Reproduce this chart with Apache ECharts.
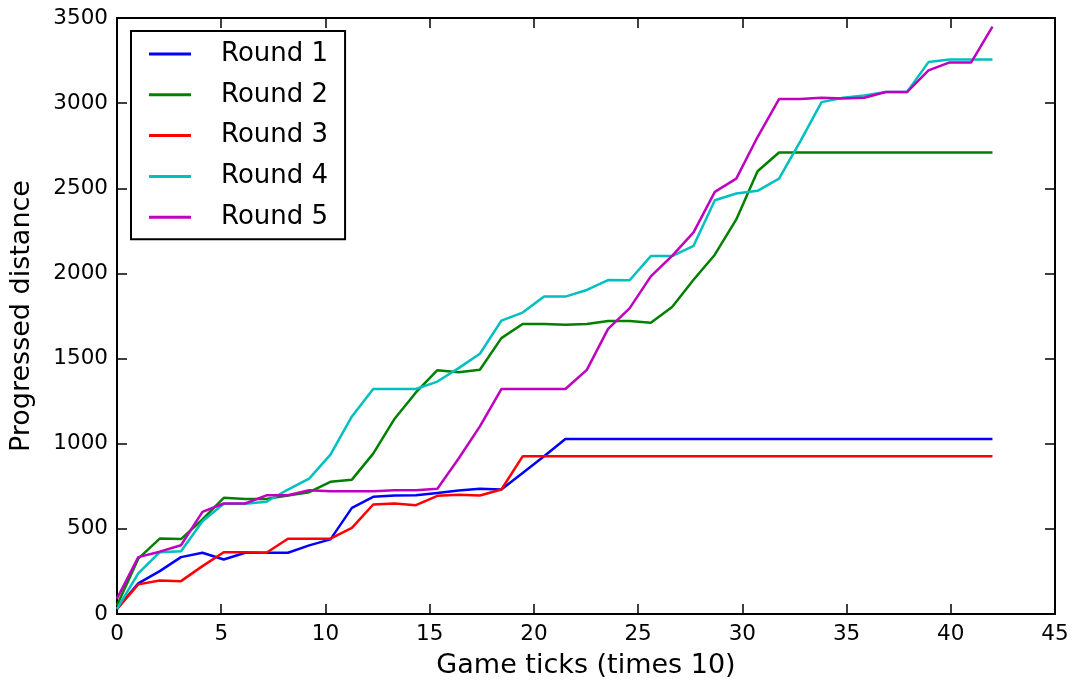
<!DOCTYPE html>
<html>
<head>
<meta charset="utf-8">
<script src="https://cdn.jsdelivr.net/npm/echarts@6/dist/echarts.min.js"></script>
<style>
html,body{margin:0;padding:0;background:#fff;}
#chart{width:1072px;height:684px;}
</style>
</head>
<body>
<div id="chart"></div>
<script>
// Game ticks (times 10)
var ticksX = [0, 1.02, 2.05, 3.07, 4.10, 5.12, 6.15, 7.17, 8.20, 9.22, 10.24, 11.27, 12.29, 13.32, 14.34, 15.37, 16.39, 17.41, 18.44, 19.46, 20.49, 21.51, 22.54, 23.56, 24.59, 25.61, 26.63, 27.66, 28.68, 29.71, 30.73, 31.76, 32.78, 33.80, 34.83, 35.85, 36.88, 37.90, 38.93, 39.95, 40.98, 42.00];

var round1 = [30, 180, 252, 334, 360, 320, 360, 360, 360, 403, 438, 623, 688, 696, 697, 711, 725, 735, 731, 828, 926, 1028, 1028, 1028, 1028, 1028, 1028, 1028, 1028, 1028, 1028, 1028, 1028, 1028, 1028, 1028, 1028, 1028, 1028, 1028, 1028, 1028];
var round2 = [50, 325, 443, 440, 555, 682, 676, 676, 696, 715, 776, 789, 942, 1147, 1301, 1432, 1420, 1434, 1620, 1703, 1703, 1698, 1703, 1721, 1721, 1711, 1803, 1963, 2110, 2317, 2600, 2710, 2710, 2710, 2710, 2710, 2710, 2710, 2710, 2710, 2710, 2710];
var round3 = [30, 174, 197, 193, 281, 363, 363, 360, 442, 442, 442, 506, 643, 649, 639, 694, 701, 696, 731, 926, 926, 926, 926, 926, 926, 926, 926, 926, 926, 926, 926, 926, 926, 926, 926, 926, 926, 926, 926, 926, 926, 926];
var round4 = [30, 238, 363, 369, 545, 647, 647, 659, 731, 795, 936, 1160, 1321, 1321, 1321, 1365, 1444, 1528, 1723, 1770, 1864, 1864, 1903, 1961, 1960, 2102, 2102, 2162, 2430, 2469, 2485, 2557, 2775, 3006, 3032, 3045, 3065, 3065, 3241, 3256, 3256, 3256];
var round5 = [90, 334, 366, 404, 600, 649, 649, 697, 697, 727, 721, 721, 721, 727, 727, 735, 913, 1102, 1321, 1321, 1321, 1321, 1434, 1674, 1795, 1983, 2103, 2241, 2479, 2557, 2801, 3024, 3024, 3032, 3027, 3032, 3065, 3065, 3192, 3239, 3239, 3450];

var seriesNames = ['Round 1', 'Round 2', 'Round 3', 'Round 4', 'Round 5'];
var seriesValues = [round1, round2, round3, round4, round5];
var colors = ['#0000ff', '#008000', '#ff0000', '#00bfbf', '#bf00bf'];

var FONT = 'DejaVu Sans';

function pairs(vals) {
  return vals.map(function (v, i) { return [ticksX[i], v]; });
}

function axLine() { return {show: true, onZero: false, lineStyle: {color: '#000', width: 2}}; }
function axTick() { return {show: true, inside: true, length: 10, lineStyle: {color: '#000', width: 1.5}}; }

var chart = echarts.init(document.getElementById('chart'), null, {renderer: 'canvas'});

var option = {
  animation: false,
  backgroundColor: '#fff',
  color: colors,
  grid: {left: 117, right: 17, top: 18, bottom: 69.5, containLabel: false,
         show: true, borderColor: '#000', borderWidth: 2, backgroundColor: 'transparent'},
  legend: {
    orient: 'vertical',
    left: 131,
    top: 31,
    data: seriesNames,
    icon: 'rect',
    itemWidth: 42,
    itemHeight: 3,
    itemGap: 10.8,
    padding: [8, 17, 7, 18],
    borderColor: '#000',
    borderWidth: 2,
    borderRadius: 0,
    backgroundColor: '#fff',
    textStyle: {fontFamily: FONT, fontSize: 26, color: '#000', lineHeight: 30, padding: [0, 0, 0, 25]}
  },
  xAxis: [{
    type: 'value', min: 0, max: 45, interval: 5, position: 'bottom',
    name: 'Game ticks (times 10)', nameLocation: 'middle', nameGap: 38,
    nameTextStyle: {fontFamily: FONT, fontSize: 27, color: '#000'},
    axisLine: axLine(), axisTick: axTick(),
    axisLabel: {fontFamily: FONT, fontSize: 21.5, color: '#000', margin: 9,
                formatter: function (v) { return String(v); }},
    splitLine: {show: false}
  }, {
    type: 'value', min: 0, max: 45, interval: 5, position: 'top',
    axisLine: axLine(), axisTick: axTick(),
    axisLabel: {show: false}, splitLine: {show: false}
  }],
  yAxis: [{
    type: 'value', min: 0, max: 3500, interval: 500, position: 'left',
    name: 'Progressed distance', nameLocation: 'middle', nameGap: 82,
    nameTextStyle: {fontFamily: FONT, fontSize: 27, color: '#000'},
    axisLine: axLine(), axisTick: axTick(),
    axisLabel: {fontFamily: FONT, fontSize: 21.5, color: '#000', margin: 9,
                formatter: function (v) { return String(v); }},
    splitLine: {show: false}
  }, {
    type: 'value', min: 0, max: 3500, interval: 500, position: 'right',
    axisLine: axLine(), axisTick: axTick(),
    axisLabel: {show: false}, splitLine: {show: false}
  }],
  series: seriesNames.map(function (name, k) {
    return {
      name: name,
      type: 'line',
      xAxisIndex: 0,
      yAxisIndex: 0,
      data: pairs(seriesValues[k]),
      showSymbol: false,
      symbol: 'none',
      lineStyle: {color: colors[k], width: 2.5},
      itemStyle: {color: colors[k]}
    };
  })
};

chart.setOption(option);
</script>
</body>
</html>
